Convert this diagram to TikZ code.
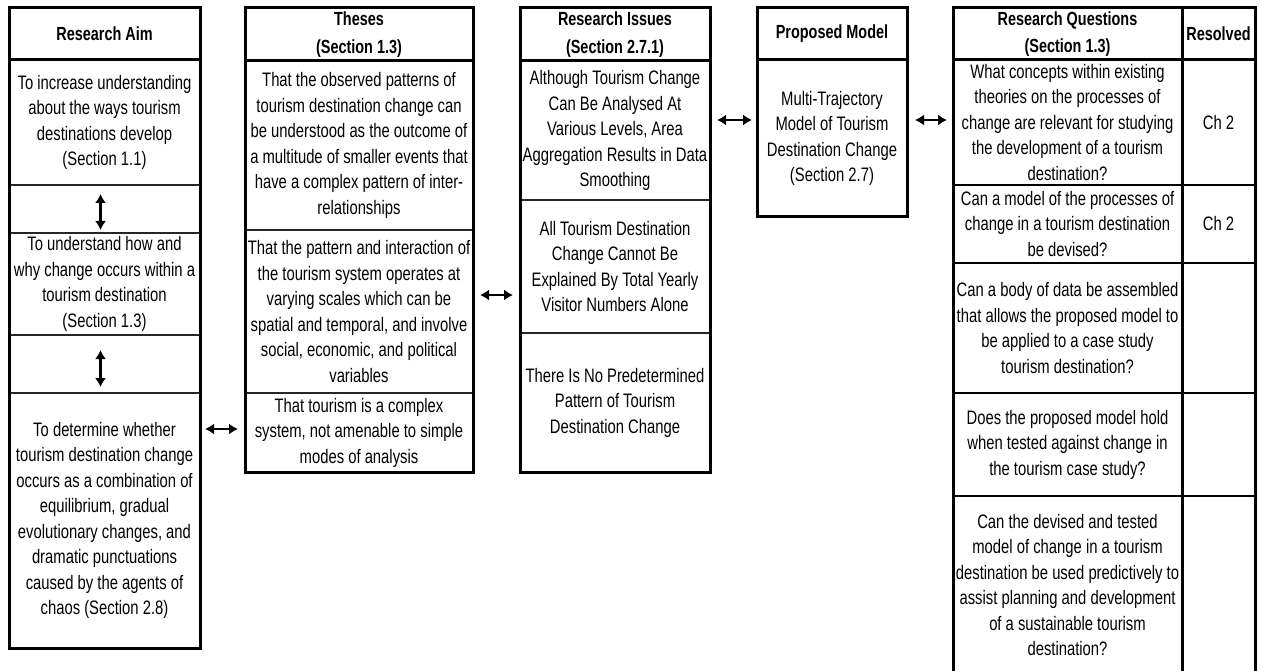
\documentclass[tikz,border=0pt]{standalone}
\usepackage{fontspec}
\setmainfont{Liberation Sans}[FakeStretch=0.76]
\usetikzlibrary{arrows.meta,calc}

\begin{document}
\begin{tikzpicture}[x=1pt,y=-1pt,
  cell/.style 2 args={anchor=north west, inner sep=0pt, outer sep=0pt,
    minimum width=#1, minimum height=#2, align=center,
    font=\fontsize{19.5}{25.5}\selectfont},
  headcell/.style 2 args={cell={#1}{#2}, font=\fontsize{19}{27.5}\selectfont\bfseries},
  frame/.style={line width=3pt, line join=miter},
  sep/.style={line width=1.6pt, black!85},
  rowline/.style={line width=2.4pt},
  biarrow/.style={{Latex[length=9pt,width=11pt]}-{Latex[length=9pt,width=11pt]}, line width=2.8pt}
]
\useasboundingbox[fill=white] (0,0) rectangle (1261,671);

% ---- Research Aim column
\node[headcell={191}{52}] (aH) at (9,8) {Research Aim};
\node[cell={191}{125}] (a1) at (9,60) {To increase understanding\\about the ways tourism\\destinations develop\\(Section 1.1)};
\node[cell={191}{48}] (ag1) at (9,185) {};
\node[cell={191}{102}] (a2) at (9,233) {To understand how and\\why change occurs within a\\tourism destination\\(Section 1.3)};
\node[cell={191}{58}] (ag2) at (9,335) {};
\node[cell={191}{255}] (a3) at (9,393) {To determine whether\\tourism destination change\\occurs as a combination of\\equilibrium, gradual\\evolutionary changes, and\\dramatic punctuations\\caused by the agents of\\chaos (Section 2.8)};
\foreach \n in {a1,ag1,a2,ag2} \draw[sep] (\n.south west) -- (\n.south east);
\draw[frame] (aH.south west) -- ([xshift=2pt]aH.south east);
\draw[frame] (aH.north west) rectangle (a3.south east);

% ---- Theses column
\node[headcell={228}{53}] (tH) at (245,8) {Theses\\(Section 1.3)};
\node[cell={228}{169}] (t1) at (245,61) {That the observed patterns of\\tourism destination change can\\be understood as the outcome of\\a multitude of smaller events that\\have a complex pattern of inter-\\relationships};
\node[cell={228}{163}] (t2) at (245,230) {That the pattern and interaction of\\the tourism system operates at\\varying scales which can be\\spatial and temporal, and involve\\social, economic, and political\\variables};
\node[cell={228}{79}] (t3) at (245,393) {That tourism is a complex\\system, not amenable to simple\\modes of analysis};
\foreach \n in {t1,t2} \draw[sep] (\n.south west) -- (\n.south east);
\draw[frame] (tH.south west) -- ([xshift=2pt]tH.south east);
\draw[frame] (tH.north west) rectangle (t3.south east);

% ---- Research Issues column
\node[headcell={190}{53}] (iH) at (520,8) {Research Issues\\(Section 2.7.1)};
\node[cell={190}{139}] (i1) at (520,61) {Although Tourism Change\\Can Be Analysed At\\Various Levels, Area\\Aggregation Results in Data\\Smoothing};
\node[cell={190}{133}] (i2) at (520,200) {All Tourism Destination\\Change Cannot Be\\Explained By Total Yearly\\Visitor Numbers Alone};
\node[cell={190}{139}] (i3) at (520,333) {There Is No Predetermined\\Pattern of Tourism\\Destination Change};
\foreach \n in {i1,i2} \draw[sep] (\n.south west) -- (\n.south east);
\draw[frame] (iH.south west) -- (iH.south east);
\draw[frame] (iH.north west) rectangle (i3.south east);

% ---- Proposed Model column
\node[headcell={150}{52}] (pH) at (757,8) {Proposed Model};
\node[cell={150}{157}] (p1) at (757,60) {Multi-Trajectory\\Model of Tourism\\Destination Change\\(Section 2.7)};
\draw[frame] (pH.south west) -- (pH.south east);
\draw[frame] (pH.north west) rectangle (p1.south east);

% ---- Research Questions table
\node[headcell={229}{52}] (qH) at (953,8) {Research Questions\\(Section 1.3)};
\node[headcell={73}{52}] (rH) at (1182,8) {Resolved};
\node[cell={229}{125}] (q1) at (953,60) {What concepts within existing\\theories on the processes of\\change are relevant for studying\\the development of a tourism\\destination?};
\node[cell={73}{125}] (r1) at (1182,60) {Ch 2};
\node[cell={229}{78}] (q2) at (953,185) {Can a model of the processes of\\change in a tourism destination\\be devised?};
\node[cell={73}{78}] (r2) at (1182,185) {Ch 2};
\node[cell={229}{130}] (q3) at (953,263) {Can a body of data be assembled\\that allows the proposed model to\\be applied to a case study\\tourism destination?};
\node[cell={73}{130}] (r3) at (1182,263) {};
\node[cell={229}{103}] (q4) at (953,393) {Does the proposed model hold\\when tested against change in\\the tourism case study?};
\node[cell={73}{103}] (r4) at (1182,393) {};
\node[cell={229}{178}] (q5) at (953,496) {Can the devised and tested\\model of change in a tourism\\destination be used predictively to\\assist planning and development\\of a sustainable tourism\\destination?};
\node[cell={73}{178}] (r5) at (1182,496) {};
\foreach \q/\r in {q1/r1,q2/r2,q3/r3,q4/r4} \draw[rowline] (\q.south west) -- (\r.south east);
\draw[frame] (qH.south west) -- (rH.south east);
\draw[frame] (rH.north west) -- (r5.south west);
\draw[frame] (q5.south west) -- (qH.north west) -- (rH.north east) -- (r5.south east);

% ---- connectors
\draw[biarrow, shorten <=9pt, shorten >=3pt] ([xshift=-4pt]a1.south) -- ([xshift=-4pt]a2.north);
\draw[biarrow, shorten <=15pt, shorten >=6pt] ([xshift=-4pt]a2.south) -- ([xshift=-4pt]a3.north);

\coordinate (k12) at ($(t3.west)+(0,-3.5)$);
\draw[biarrow, shorten <=5pt, shorten >=7pt] (a3.east |- k12) -- (k12);

\coordinate (k23) at ($(t2.east)+(0,-16.5)$);
\draw[biarrow, shorten <=7pt, shorten >=7pt] (k23) -- (k23 -| i2.west);

\coordinate (k34) at ($(p1.west)+(0,-18.5)$);
\draw[biarrow, shorten <=7pt, shorten >=5pt] (k34 -| i1.east) -- (k34);

\coordinate (k45) at ($(q1.west)+(0,-2.5)$);
\draw[biarrow, shorten <=8pt, shorten >=6pt] (k45 -| p1.east) -- (k45);
\end{tikzpicture}
\end{document}
